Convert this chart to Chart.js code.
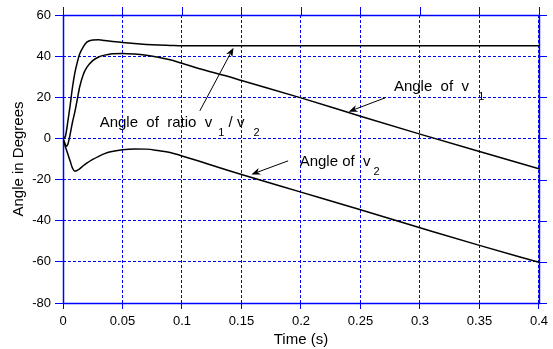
<!DOCTYPE html>
<html>
<head>
<meta charset="utf-8">
<script src="https://cdn.jsdelivr.net/npm/chart.js@4.4.0/dist/chart.umd.min.js"></script>
<style>
  html, body { margin: 0; padding: 0; background: #fff; }
  #wrap { width: 553px; height: 349px; }
</style>
</head>
<body>
<div id="wrap"><canvas id="chart"></canvas></div>
<script>
// time samples (s) and the three angle traces (degrees)
const time = [0, 0.002, 0.003, 0.004, 0.006, 0.008, 0.01, 0.012, 0.014, 0.017, 0.02, 0.025, 0.03, 0.035, 0.04,
  0.05, 0.06, 0.07, 0.08, 0.09, 0.1, 0.114, 0.139, 0.15, 0.2, 0.25, 0.3, 0.35, 0.4];
const ratioAngle = [0, 1, 4, 8, 16, 25, 32, 37, 41, 44.5, 46.8, 47.9, 48, 47.6, 47.2,
  46.6, 46.1, 45.7, 45.4, 45.2, 45, 45, 45, 45, 45, 45, 45, 45, 45];
const v1Angle = [0, -3, -3.8, -3, 2, 8, 13, 19, 25, 31, 34.5, 37.8, 39.6, 40.5, 41.1,
  41.3, 41, 40.4, 39.5, 38.2, 36.5, 34, 30.1, 28.2, 19.7, 10.8, 2.1, -6.4, -14.7];
const v2Angle = [0, -4, -5.8, -7.5, -11, -14.5, -15.9, -15.5, -14.8, -13.3, -12, -10.2, -8.7, -7.4, -6.5,
  -5.5, -5.1, -5.2, -5.9, -6.8, -8.5, -11, -15.6, -17.5, -26.1, -34.7, -43.4, -52, -60.2];

const xTicks = [0, 0.05, 0.1, 0.15, 0.2, 0.25, 0.3, 0.35, 0.4];
const yTicks = [-80, -60, -40, -20, 0, 20, 40, 60];

const FONT = '"Liberation Sans", Arial, Helvetica, sans-serif';
const BLUE = '#0000ff';

// labels: anchor = left edge / baseline in data units; [text, isSubscript]
const notes = [
  { at: [0.0308, 5.35], parts: [['Angle  of  ratio  v', 0], ['  1', 1], [' / v', 0], ['   2', 1]] },
  { at: [0.2781, 22.85], parts: [['Angle  of  v', 0], ['   1', 1]] },
  { at: [0.1989, -13.5], parts: [['Angle of  v', 0], [' 2', 1]] },
];
const arrows = [
  { from: [0.115, 13.4], to: [0.1433, 44.1] },
  { from: [0.2711, 19.8], to: [0.24, 13.0] },
  { from: [0.1892, -10.9], to: [0.1583, -17.5] },
];

const toPoints = vals => time.map((t, i) => ({ x: t, y: vals[i] }));

function drawArrow(ctx, x0, y0, x1, y1) {
  const a = Math.atan2(y1 - y0, x1 - x0), c = Math.cos(a), s = Math.sin(a);
  const len = 9, half = 3.5, back = 6.5;
  ctx.beginPath();
  ctx.moveTo(x0, y0);
  ctx.lineTo(x1 - c * back, y1 - s * back);
  ctx.stroke();
  ctx.beginPath();
  ctx.moveTo(x1, y1);
  ctx.lineTo(x1 - len * c + half * s, y1 - len * s - half * c);
  ctx.lineTo(x1 - back * c, y1 - back * s);
  ctx.lineTo(x1 - len * c - half * s, y1 - len * s + half * c);
  ctx.closePath();
  ctx.fill();
}

const frame = {
  id: 'frame',
  beforeDatasetsDraw(chart) {
    const { ctx, chartArea: a, scales: { x, y } } = chart;
    ctx.save();
    ctx.strokeStyle = BLUE;
    ctx.setLineDash([]);
    ctx.lineWidth = 1.5;
    ctx.strokeRect(a.left + 0.5, a.top + 0.5, a.right - a.left, a.bottom - a.top);
    ctx.lineWidth = 1;
    ctx.beginPath();
    xTicks.forEach(v => {
      const px = Math.round(x.getPixelForValue(v)) + 0.5;
      ctx.moveTo(px, a.top); ctx.lineTo(px, a.top - 8);
    });
    yTicks.forEach(v => {
      const py = Math.round(y.getPixelForValue(v)) + 0.5;
      ctx.moveTo(a.right, py); ctx.lineTo(a.right + 8, py);
    });
    ctx.stroke();
    ctx.restore();
  },
  afterDatasetsDraw(chart) {
    const { ctx, scales: { x, y } } = chart;
    ctx.save();
    ctx.fillStyle = '#000';
    ctx.strokeStyle = '#000';
    ctx.lineWidth = 1;
    ctx.textBaseline = 'alphabetic';
    ctx.textAlign = 'left';
    notes.forEach(n => {
      let px = x.getPixelForValue(n.at[0]);
      const py = y.getPixelForValue(n.at[1]);
      n.parts.forEach(([txt, sub]) => {
        ctx.font = (sub ? 11 : 15) + 'px ' + FONT;
        ctx.fillText(txt, px, py + (sub ? 8.5 : 0));
        px += ctx.measureText(txt).width;
      });
    });
    arrows.forEach(ar => {
      drawArrow(ctx,
        x.getPixelForValue(ar.from[0]), y.getPixelForValue(ar.from[1]),
        x.getPixelForValue(ar.to[0]), y.getPixelForValue(ar.to[1]));
    });
    ctx.restore();
  }
};

const line = vals => ({
  data: toPoints(vals),
  borderColor: '#000',
  borderWidth: 1.5,
  pointRadius: 0,
  fill: false,
  cubicInterpolationMode: 'monotone',
});

new Chart(document.getElementById('chart'), {
  type: 'line',
  data: { datasets: [line(ratioAngle), line(v1Angle), line(v2Angle)] },
  options: {
    responsive: true,
    maintainAspectRatio: false,
    animation: false,
    layout: { padding: { top: 15, right: 10, left: 0, bottom: 0 } },
    plugins: { legend: { display: false }, tooltip: { enabled: false } },
    scales: {
      x: {
        type: 'linear', min: 0, max: 0.4,
        afterBuildTicks: s => { s.ticks = xTicks.map(v => ({ value: v })); },
        afterFit: s => { s.height = 46; },
        ticks: { color: '#000', font: { family: FONT, size: 13 }, padding: 5, maxRotation: 0, autoSkip: false,
          callback: v => String(v) },
        grid: { color: BLUE, lineWidth: 1, tickLength: 6, tickColor: BLUE, tickBorderDash: [] },
        border: { display: false, dash: [3, 2] },
        title: { display: true, text: 'Time (s)', color: '#000', font: { family: FONT, size: 15 },
          padding: { top: 0, bottom: 0 } }
      },
      y: {
        min: -80, max: 60,
        afterBuildTicks: s => { s.ticks = yTicks.map(v => ({ value: v })); },
        afterFit: s => { s.width = 63; },
        ticks: { color: '#000', font: { family: FONT, size: 13 }, padding: 4, autoSkip: false },
        grid: { color: BLUE, lineWidth: 1, tickLength: 8, tickColor: BLUE, tickBorderDash: [] },
        border: { display: false, dash: [3, 2] },
        title: { display: true, text: 'Angle in Degrees', color: '#000', font: { family: FONT, size: 15 },
          padding: { top: 9.5, bottom: 0 } }
      }
    }
  },
  plugins: [frame]
});
</script>
</body>
</html>
